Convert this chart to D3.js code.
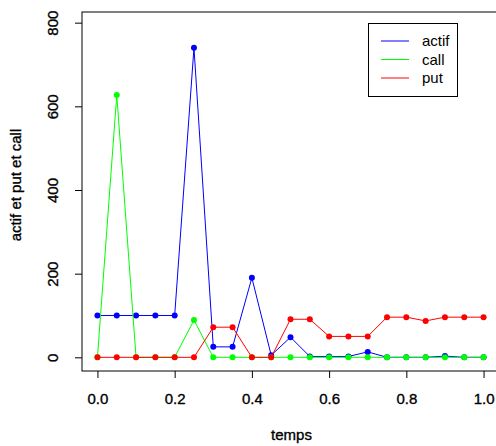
<!DOCTYPE html>
<html>
<head>
<meta charset="utf-8">
<script src="https://cdn.jsdelivr.net/npm/d3@7"></script>
<style>
  body { margin: 0; background: #fff; }
  svg text { font-family: "Liberation Sans", Arial, sans-serif; fill: #000; }
  .axis-text { stroke: #000; stroke-width: 0.35px; }
</style>
</head>
<body>
<svg id="chart" width="496" height="446"></svg>
<script>
// time steps
const temps = [0, 0.05, 0.1, 0.15, 0.2, 0.25, 0.3, 0.35, 0.4, 0.45, 0.5,
  0.55, 0.6, 0.65, 0.7, 0.75, 0.8, 0.85, 0.9, 0.95, 1.0];

// series values
const actif = [100, 100, 100, 100, 100, 740, 25, 25, 190, 5, 48,
  2, 2, 2, 13, 0, 0, 0, 3, 0, 0];
const call = [0, 627, 0, 0, 0, 89, 0, 0, 0, 0, 0,
  0, 0, 0, 0, 0, 0, 0, 0, 0, 0];
const put = [0, 0, 0, 0, 0, 0, 72, 72, 0, 0, 91,
  91, 50, 50, 50, 96, 96, 87, 96, 96, 96];

const seriesNames = ["actif", "call", "put"];
const seriesColors = ["#0000ff", "#00ff00", "#ff0000"];
const xTicks = [0, 0.2, 0.4, 0.6, 0.8, 1.0];
const yTicks = [0, 200, 400, 600, 800];

const svg = d3.select("#chart");

// plot region (R style, 4% padding each side)
const box = { left: 82, right: 499, top: 12, bottom: 371 };

const x = d3.scaleLinear().domain([-0.04, 1.04]).range([box.left, box.right]);
const y = d3.scaleLinear().domain([-32.7, 825.5]).range([box.bottom, box.top]);

// box
svg.append("rect")
  .attr("x", box.left).attr("y", box.top)
  .attr("width", box.right - box.left).attr("height", box.bottom - box.top)
  .attr("fill", "none").attr("stroke", "#000").attr("stroke-width", 1);

// x axis
const xAxis = svg.append("g")
  .attr("transform", "translate(0," + box.bottom + ")")
  .call(d3.axisBottom(x).tickValues(xTicks).tickFormat(d3.format(".1f"))
    .tickSize(7).tickPadding(15));
xAxis.select(".domain").remove();
xAxis.selectAll("text").attr("class", "axis-text").style("font-size", "15px")
  .attr("fill", "#000");

// y axis (labels rotated like R's default)
const yAxis = svg.append("g")
  .attr("transform", "translate(" + box.left + ",0)")
  .call(d3.axisLeft(y).tickValues(yTicks).tickSize(7).tickFormat(d3.format("d")));
yAxis.select(".domain").remove();
yAxis.selectAll("text").attr("class", "axis-text")
  .style("font-size", "15px").attr("fill", "#000")
  .attr("x", 0).attr("dy", 0)
  .attr("text-anchor", "middle")
  .attr("transform", (d) => "translate(-24,0) rotate(-90)");

// axis titles
svg.append("text").attr("class", "axis-text")
  .attr("x", 291.5).attr("y", 440)
  .attr("text-anchor", "middle").style("font-size", "15px")
  .text("temps");

svg.append("text").attr("class", "axis-text")
  .attr("transform", "translate(21,185) rotate(-90)")
  .attr("text-anchor", "middle").style("font-size", "15px")
  .text("actif et put et call");

// series
const allSeries = [actif, call, put];
const line = d3.line().x((d) => x(d[0])).y((d) => y(d[1]));

allSeries.forEach((vals, i) => {
  const pts = temps.map((t, j) => [t, vals[j]]);
  svg.append("path")
    .datum(pts)
    .attr("d", line)
    .attr("fill", "none")
    .attr("stroke", seriesColors[i])
    .attr("stroke-width", 1);
  svg.append("g")
    .selectAll("circle")
    .data(pts)
    .enter()
    .append("circle")
    .attr("cx", (d) => x(d[0]))
    .attr("cy", (d) => y(d[1]))
    .attr("r", 3)
    .attr("fill", seriesColors[i]);
});

// legend
const legend = svg.append("g");
legend.append("rect")
  .attr("x", 368.5).attr("y", 23.5).attr("width", 89).attr("height", 73)
  .attr("fill", "#fff").attr("stroke", "#000");
seriesNames.forEach((name, i) => {
  const ly = 41 + i * 18.5;
  legend.append("line")
    .attr("x1", 381).attr("x2", 409).attr("y1", ly).attr("y2", ly)
    .attr("stroke", seriesColors[i]).attr("stroke-width", 1);
  legend.append("text")
    .attr("x", 422).attr("y", ly + 5)
    .style("font-size", "15px")
    .text(name);
});
</script>
</body>
</html>
